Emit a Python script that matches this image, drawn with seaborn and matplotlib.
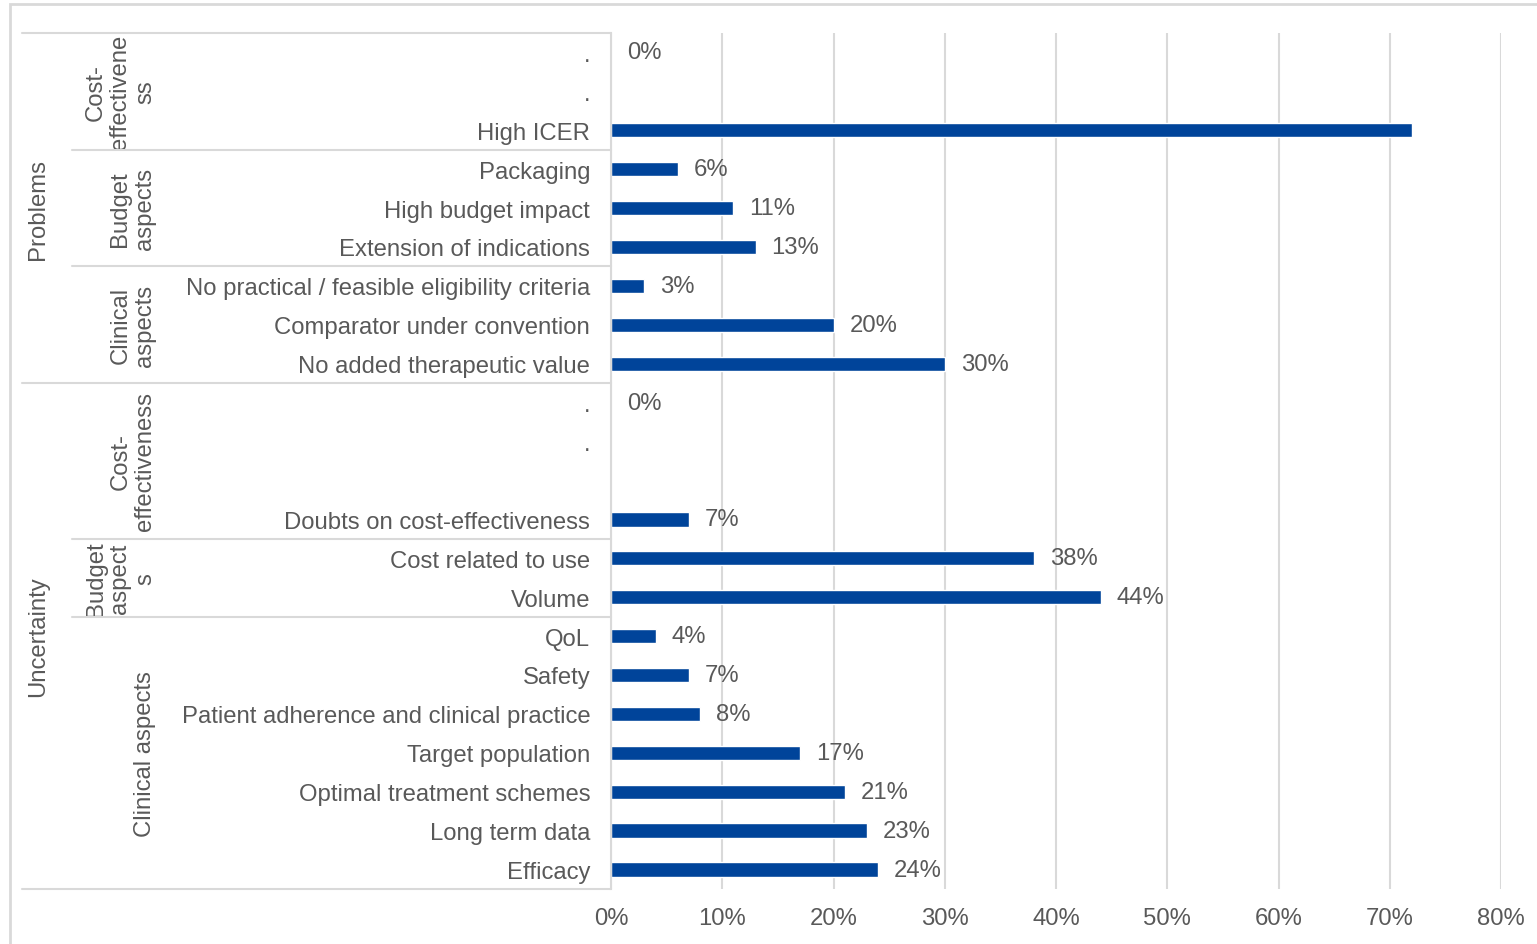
import matplotlib
matplotlib.use("Agg")
import matplotlib.pyplot as plt
import matplotlib.transforms as mtransforms
from matplotlib.patches import Rectangle
from matplotlib.lines import Line2D
import pandas as pd
import seaborn as sns

# outer groups, sub groups and bars (top to bottom)
top_groups = ["Problems", "Uncertainty"]
top_sizes = [9, 13]
sub_groups = ["Cost-\neffectivene\nss", "Budget\naspects", "Clinical\naspects",
              "Cost-\neffectiveness", "Budget\naspect\ns", "Clinical aspects"]
sub_sizes = [3, 3, 3, 4, 2, 7]
items = [".", ".", "High ICER",
         "Packaging", "High budget impact", "Extension of indications",
         "No practical / feasible eligibility criteria", "Comparator under convention",
         "No added therapeutic value",
         ".", ".", "", "Doubts on cost-effectiveness",
         "Cost related to use", "Volume",
         "QoL", "Safety", "Patient adherence and clinical practice", "Target population",
         "Optimal treatment schemes", "Long term data", "Efficacy"]
values = [0, 0, 72, 6, 11, 13, 3, 20, 30,
          0, 0, 0, 7, 38, 44, 4, 7, 8, 17, 21, 23, 24]
value_labels = ["0%", "", "", "6%", "11%", "13%", "3%", "20%", "30%",
                "0%", "", "", "7%", "38%", "44%", "4%", "7%", "8%", "17%", "21%", "23%", "24%"]
x_ticks = [0, 10, 20, 30, 40, 50, 60, 70, 80]

BAR = "#00449A"
TXT = "#595959"
LINE = "#D9D9D9"
W, H = 1537, 945

sns.set_style("white")
plt.rcParams["font.family"] = ["Liberation Sans", "DejaVu Sans"]
FS = 17.2

df = pd.DataFrame({"row": [f"r{i}" for i in range(len(items))], "value": values})

fig = plt.figure(figsize=(W / 100, H / 100), dpi=100)
ax = fig.add_axes([611 / W, 1 - 890 / H, (1501 - 611) / W, (890 - 34) / H])

sns.barplot(data=df, x="value", y="row", order=df["row"], orient="h",
            color=BAR, saturation=1, width=0.37, ax=ax)

ax.set_xlim(0, 80)
ax.set_ylim(len(items) - 0.5, -0.5)
ax.set_xticks(x_ticks)
ax.set_xticklabels([f"{t}%" for t in x_ticks])
ax.set_yticks(range(len(items)))
ax.set_yticklabels(items)
ax.set_xlabel("")
ax.set_ylabel("")
ax.tick_params(axis="y", length=0, pad=15, labelsize=FS, labelcolor=TXT)
ax.tick_params(axis="x", length=0, pad=13, labelsize=FS, labelcolor=TXT)
ax.grid(axis="x", color=LINE, lw=1.5)
ax.set_axisbelow(True)
for s in ["top", "right", "bottom"]:
    ax.spines[s].set_visible(False)
ax.spines["left"].set_color(LINE)
ax.spines["left"].set_linewidth(1.5)

for i, (v, lab) in enumerate(zip(values, value_labels)):
    if lab:
        ax.annotate(lab, (v, i), xytext=(11.5, 0), textcoords="offset points",
                    va="center", ha="left", fontsize=FS, color=TXT)

# category table at the left
tr = mtransforms.blended_transform_factory(fig.transFigure, ax.transData)
x0, x1, xe = 22 / W, 72 / W, 611 / W

pos = -0.5
for name, n in zip(top_groups, top_sizes):
    fig.add_artist(Line2D([x0, xe], [pos, pos], transform=tr, color=LINE, lw=1.5))
    ax.text(38 / W, pos + n / 2, name, transform=tr, rotation=90,
            ha="center", va="center", fontsize=FS, color=TXT)
    pos += n
fig.add_artist(Line2D([x0, xe], [pos, pos], transform=tr, color=LINE, lw=1.5))

pos = -0.5
for name, n in zip(sub_groups, sub_sizes):
    if pos not in (-0.5, 8.5):
        fig.add_artist(Line2D([x1, xe], [pos, pos], transform=tr, color=LINE, lw=1.5))
    ax.text(156 / W, pos + n / 2, name, transform=tr, rotation=90,
            ha="right", va="center", multialignment="center",
            fontsize=FS, color=TXT, linespacing=1.15)
    pos += n

# chart frame
fig.add_artist(Rectangle((9.5 / W, -0.1), 1.2, 1 - 4.5 / H + 0.1,
                         transform=fig.transFigure, fill=False, ec=LINE, lw=2))

fig.savefig("out.png", dpi=100)
